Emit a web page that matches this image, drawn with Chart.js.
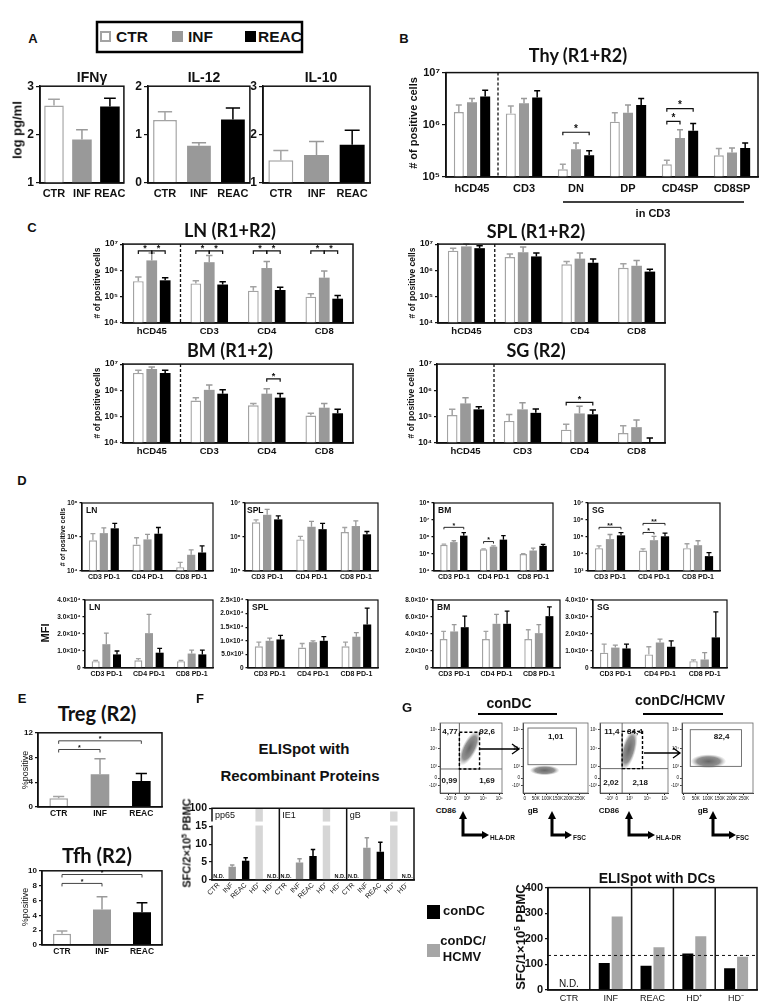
<!DOCTYPE html>
<html><head><meta charset="utf-8">
<script src="https://cdn.jsdelivr.net/npm/chart.js@4.4.1/dist/chart.umd.min.js"></script>
<style>
body{margin:0;background:#fff;}
#fig{position:relative;width:763px;height:1007px;overflow:hidden;font-family:"Liberation Sans",Arial,sans-serif;color:#111;background:#fff;}
.t{position:absolute;white-space:nowrap;font-weight:bold;transform:translate(-50%,-50%);line-height:1;}
.l{position:absolute;white-space:nowrap;font-weight:bold;transform:translate(0,-50%);line-height:1;}
.rot{transform:translate(-50%,-50%) rotate(-90deg);}
.ttl{font-family:Lato,"Open Sans",sans-serif;}
canvas{position:absolute;}
sup{font-size:65%;vertical-align:0.55em;line-height:0;}
.sq{position:absolute;box-sizing:border-box;}
</style></head><body>
<div id="fig"></div>
<script>
// ---- data ----
const aGroups = ['CTR', 'INF', 'REAC'];
const ifngMean = [2.6, 1.9, 2.58], ifngHi = [2.73, 2.1, 2.75];
const il12Mean = [1.3, 0.77, 1.31], il12Hi = [1.47, 0.83, 1.55];
const il10Mean = [1.47, 1.58, 1.79], il10Hi = [1.67, 1.86, 2.09];

const thyCats = ['hCD45', 'CD3', 'DN', 'DP', 'CD4SP', 'CD8SP'];
const thyCTR = [1.75e6, 1.65e6, 1.4e5, 1.15e6, 1.75e5, 2.6e5];
const thyCTRhi = [2.4e6, 2.3e6, 1.75e5, 1.7e6, 2.1e5, 3.5e5];
const thyINF = [2.7e6, 2.6e6, 3.4e5, 1.7e6, 5.6e5, 2.95e5];
const thyINFhi = [3.2e6, 3.2e6, 4.5e5, 2.4e6, 8e5, 3.6e5];
const thyREAC = [3.5e6, 3.35e6, 2.6e5, 2.4e6, 7.7e5, 3.6e5];
const thyREAChi = [4.6e6, 4.5e6, 3.2e5, 3.2e6, 1.06e6, 4.5e5];

const organCats = ['hCD45', 'CD3', 'CD4', 'CD8'];
const lnCTR = [3.9e5, 3.2e5, 1.7e5, 1e5], lnCTRhi = [5.6e5, 4e5, 2.4e5, 1.3e5];
const lnINF = [2.4e6, 2.05e6, 1.23e6, 5.3e5], lnINFhi = [4.6e6, 3.7e6, 2.2e6, 9.4e5];
const lnREAC = [4.2e5, 2.9e5, 1.8e5, 8.4e4], lnREAChi = [5.2e5, 3.7e5, 2.3e5, 1.1e5];
const splCTR = [5.6e6, 3.2e6, 1.7e6, 1.26e6], splCTRhi = [7e6, 4.2e6, 2.2e6, 1.8e6];
const splINF = [8.2e6, 4.9e6, 2.8e6, 1.5e6], splINFhi = [1e7, 7.7e6, 4.6e6, 2.4e6];
const splREAC = [7e6, 3.4e6, 1.95e6, 9e5], splREAChi = [8.7e6, 4.6e6, 2.7e6, 1.1e6];
const bmCTR = [4.6e6, 4.1e5, 2.7e5, 1.1e5], bmCTRhi = [5.9e6, 5.3e5, 3.2e5, 1.35e5];
const bmINF = [6.5e6, 1.05e6, 7.5e5, 2.2e5], bmINFhi = [7.8e6, 1.6e6, 1.15e6, 3.2e5];
const bmREAC = [4.6e6, 7.5e5, 5.3e5, 1.35e5], bmREAChi = [5.9e6, 1.05e6, 7.6e5, 1.9e5];
const sgCTR = [1.16e5, 6.9e4, 3.2e4, 2.4e4], sgCTRhi = [1.9e5, 1.2e5, 5.2e4, 4.5e4];
const sgINF = [3.2e5, 1.9e5, 1.33e5, 4e4], sgINFhi = [5.3e5, 3.4e5, 2.5e5, 7.5e4];
const sgREAC = [1.9e5, 1.4e5, 1.23e5, 1.06e4], sgREAChi = [2.4e5, 1.95e5, 1.8e5, 1.55e4];

const pd1Cats = ['CD3 PD-1', 'CD4 PD-1', 'CD8 PD-1'];
const lnPdCTR = [8e4, 6e4, 1.3e4], lnPdCTRhi = [1.25e5, 9.5e4, 1.8e4];
const lnPdINF = [1.3e5, 8.5e4, 3e4], lnPdINFhi = [1.85e5, 1.2e5, 4.2e4];
const lnPdREAC = [1.8e5, 1.25e5, 3.5e4], lnPdREAChi = [2.5e5, 1.9e5, 5.5e4];
const splPdCTR = [2.7e6, 8.5e5, 1.4e6], splPdCTRhi = [3.2e6, 1.05e6, 1.9e6];
const splPdINF = [4.5e6, 2e6, 2.1e6], splPdINFhi = [6.5e6, 2.9e6, 3e6];
const splPdREAC = [3.3e6, 1.7e6, 1.2e6], splPdREAChi = [4.2e6, 2.5e6, 1.45e6];
const bmPdCTR = [3.5e5, 1.9e5, 1e5], bmPdCTRhi = [3.8e5, 2e5, 1.05e5];
const bmPdINF = [5e5, 2.7e5, 1.6e5], bmPdINFhi = [6e5, 3e5, 2.2e5];
const bmPdREAC = [1.2e6, 7e5, 3e5], bmPdREAChi = [1.8e6, 1.2e6, 3.7e5];
const sgPdCTR = [2.2e4, 1.6e4, 2.2e4], sgPdCTRhi = [3e4, 2e4, 4e4];
const sgPdINF = [7.5e4, 6.5e4, 3.3e4], sgPdINFhi = [1.4e5, 1.1e5, 6e4];
const sgPdREAC = [1.25e5, 1.1e5, 7.5e3], sgPdREAChi = [1.8e5, 1.7e5, 1.2e4];

const lnMfiCTR = [4e3, 4.5e3, 4e3], lnMfiCTRhi = [4.5e3, 5.5e3, 4.5e3];
const lnMfiINF = [1.4e4, 2.05e4, 8.5e3], lnMfiINFhi = [2.05e4, 3.15e4, 1.05e4];
const lnMfiREAC = [8e3, 9e3, 8e3], lnMfiREAChi = [1e4, 1.15e4, 1.05e4];
const splMfiCTR = [8e3, 7.5e3, 8e3], splMfiCTRhi = [9.5e3, 9e3, 9.5e3];
const splMfiINF = [1e4, 9.5e3, 1.15e4], splMfiINFhi = [1.1e4, 1e4, 1.3e4];
const splMfiREAC = [1.05e4, 1e4, 1.6e4], splMfiREAChi = [1.2e4, 1.15e4, 2.2e4];
const bmMfiCTR = [3.4e4, 3.4e4, 3.4e4], bmMfiCTRhi = [4.3e4, 4.3e4, 4.5e4];
const bmMfiINF = [4.3e4, 5.2e4, 4.1e4], bmMfiINFhi = [5.1e4, 6.3e4, 5.1e4];
const bmMfiREAC = [4.8e4, 5.2e4, 6.1e4], bmMfiREAChi = [6.1e4, 6.7e4, 7.2e4];
const sgMfiCTR = [9e3, 8e3, 4e3], sgMfiCTRhi = [1.4e4, 1.25e4, 4.8e3];
const sgMfiINF = [1.2e4, 1.5e4, 5e3], sgMfiINFhi = [1.35e4, 1.7e4, 9e3];
const sgMfiREAC = [1.15e4, 1.25e4, 1.8e4], sgMfiREAChi = [1.4e4, 1.6e4, 3.3e4];

const tregMean = [1.4, 5.3, 4.2], tregHi = [1.7, 7.8, 5.4];
const tfhMean = [1.5, 4.8, 4.4], tfhHi = [1.9, 6.5, 5.7];

const elispotCats = ['CTR', 'INF', 'REAC', 'HD⁺', 'HD⁻'];
const pp65 = [null, 3.7, 5.4, 100, null], pp65Hi = [null, 4.2, 6.2, null, null];
const ie1 = [null, 4.9, 6.7, 100, null], ie1Hi = [null, 5.9, 8.5, null, null];
const gB = [null, 9, 7.9, 85, null], gBHi = [null, 11.8, 10.5, null, null];

const conDC = [null, 105, 95, 143, 85];
const conDCHCMV = [null, 287, 167, 210, 130];
const dcCutoff = 135;

// flow plots (biexponential axes in decade units)
const flowTickLab = ['-10³', '0', '10³', '10⁴', '10⁵'];
const flowYVals = [0, 0.4, 1, 2, 3];
const flowXVals = [-0.15, 0.27, 1, 2, 3];
const fscVals = [0, 50000, 100000, 150000, 200000, 250000];
const fscLab = ['0', '50K', '100K', '150K', '200K', '250K'];

// ---- helpers ----
const FONT = '"Liberation Sans", Arial, sans-serif';
const INK = '#111';
const C_CTR = '#a3a3a3', C_INF = '#999999', C_REAC = '#000', C_HDP = '#d6d6d6', C_DC2 = '#a6a6a6';
const fig = document.getElementById('fig');

const SUP = {'0':'⁰','1':'¹','2':'²','3':'³','4':'⁴','5':'⁵','6':'⁶','7':'⁷','8':'⁸','9':'⁹','-':'⁻'};
const sup = n => String(n).split('').map(c => SUP[c]).join('');
const pow10 = v => '10' + sup(Math.round(Math.log10(v)));
const sci = v => { if (v === 0) return '0'; const e = Math.floor(Math.log10(v) + 1e-9); return (v / 10 ** e).toFixed(1) + '×10' + sup(e); };
const decades = (a, b) => { const r = []; for (let e = a; e <= b; e++) r.push(10 ** e); return r; };

function tri(ctr, ctrHi, inf, infHi, reac, reacHi) {
  return [
    {data: ctr, hi: ctrHi, backgroundColor: '#fff', borderColor: C_CTR, borderWidth: 1.4, errColor: C_CTR},
    {data: inf, hi: infHi, backgroundColor: C_INF, borderColor: C_INF, borderWidth: 0, errColor: C_INF},
    {data: reac, hi: reacHi, backgroundColor: C_REAC, borderColor: C_REAC, borderWidth: 0, errColor: C_REAC}
  ];
}
function one(mean, hi) {
  return [{data: mean, hi: hi, backgroundColor: ['#fff', C_INF, C_REAC], borderColor: [C_CTR, C_INF, C_REAC],
    borderWidth: [1.5, 0, 0], errColor: [C_CTR, C_INF, C_REAC]}];
}

// bar decorations: error bars, brackets, separators, frame
const deco = {
  id: 'deco',
  afterDatasetsDraw(chart, args, o) {
    const ctx = chart.ctx, a = chart.chartArea, x = chart.scales.x, y = chart.scales.y;
    ctx.save();
    if (o.brk) {
      const yt = y.getPixelForValue(o.brk[1]), yb = y.getPixelForValue(o.brk[0]);
      ctx.fillStyle = '#fff';
      ctx.fillRect(a.left + 1, yt, a.right - a.left - 2, yb - yt);
    }
    chart.data.datasets.forEach((ds, i) => {
      if (!ds.hi) return;
      chart.getDatasetMeta(i).data.forEach((bar, j) => {
        const v = ds.hi[j];
        if (v == null || ds.data[j] == null) return;
        const t = y.getPixelForValue(v), cw = bar.width * 0.3;
        ctx.strokeStyle = Array.isArray(ds.errColor) ? ds.errColor[j] : ds.errColor;
        ctx.lineWidth = o.elw || 1.5;
        ctx.beginPath();
        ctx.moveTo(bar.x, bar.y); ctx.lineTo(bar.x, t);
        ctx.moveTo(bar.x - cw, t); ctx.lineTo(bar.x + cw, t);
        ctx.stroke();
      });
    });
    const mid = i => (x.getPixelForTick(i) + x.getPixelForTick(i + 1)) / 2;
    ctx.strokeStyle = INK;
    ctx.lineWidth = 1.3;
    ctx.setLineDash([3, 2]);
    (o.sep || []).forEach(i => {
      ctx.beginPath(); ctx.moveTo(mid(i), a.top); ctx.lineTo(mid(i), a.bottom); ctx.stroke();
    });
    ctx.setLineDash([]);
    ctx.lineWidth = o.flw || 1.5;
    (o.div || []).forEach(i => {
      ctx.beginPath(); ctx.moveTo(mid(i), a.top); ctx.lineTo(mid(i), a.bottom); ctx.stroke();
    });
    if (o.hline != null) {
      const hy = y.getPixelForValue(o.hline);
      ctx.lineWidth = 1; ctx.setLineDash([3, 3]);
      ctx.beginPath(); ctx.moveTo(a.left, hy); ctx.lineTo(a.right, hy); ctx.stroke();
      ctx.setLineDash([]);
    }
    (o.br || []).forEach(b => {
      const x1 = chart.getDatasetMeta(b.a[1]).data[b.a[0]].x;
      const x2 = chart.getDatasetMeta(b.b[1]).data[b.b[0]].x;
      const yy = y.getPixelForValue(b.v), tk = o.tk || 3;
      ctx.lineWidth = o.blw || 1.2; ctx.strokeStyle = o.bcol || INK;
      ctx.beginPath(); ctx.moveTo(x1, yy + tk); ctx.lineTo(x1, yy); ctx.lineTo(x2, yy); ctx.lineTo(x2, yy + tk); ctx.stroke();
      ctx.fillStyle = INK; ctx.font = 'bold ' + (o.bfs || 8) + 'px ' + FONT;
      ctx.textAlign = 'center'; ctx.textBaseline = 'bottom';
      ctx.fillText(b.t, (x1 + x2) / 2, yy + (o.bdy ?? 2));
    });
    if (o.nd) {
      ctx.font = o.nd.font; ctx.fillStyle = INK; ctx.textAlign = 'center'; ctx.textBaseline = 'bottom';
      chart.data.labels.forEach((l, j) => {
        if (chart.data.datasets.every(d => d.data[j] == null)) ctx.fillText('N.D.', x.getPixelForTick(j), a.bottom - (o.nd.dy || 1));
      });
    }
    (o.lab || []).forEach(l => {
      const cw = (a.right - a.left) / chart.data.labels.length;
      ctx.font = l.font; ctx.textAlign = 'left'; ctx.textBaseline = 'top'; ctx.fillStyle = INK;
      ctx.fillText(l.t, a.left + l.cat * cw + (l.dx ?? 4), a.top + (l.dy ?? 3));
    });
    ctx.lineWidth = o.flw || 1.5; ctx.strokeStyle = INK;
    if (o.brk) {
      const yt = y.getPixelForValue(o.brk[1]), yb = y.getPixelForValue(o.brk[0]);
      ctx.beginPath();
      ctx.moveTo(a.left, yt); ctx.lineTo(a.left, a.top); ctx.lineTo(a.right, a.top);
      ctx.lineTo(a.right, a.bottom); ctx.lineTo(a.left, a.bottom); ctx.lineTo(a.left, yb);
      ctx.stroke();
    } else {
      ctx.strokeRect(a.left, a.top, a.right - a.left, a.bottom - a.top);
    }
    ctx.restore();
  }
};

// flow cytometry plots: density clouds, quadrants, gates, percentages
const flowPlug = {
  id: 'flow',
  beforeDatasetsDraw(chart, args, o) {
    const ctx = chart.ctx, a = chart.chartArea, x = chart.scales.x, y = chart.scales.y;
    ctx.save();
    ctx.beginPath(); ctx.rect(a.left, a.top, a.right - a.left, a.bottom - a.top); ctx.clip();
    (o.clouds || []).forEach(c => {
      const px = x.getPixelForValue(c.cx), py = y.getPixelForValue(c.cy);
      const rx = Math.abs(x.getPixelForValue(c.cx + c.rx) - px), ry = Math.abs(y.getPixelForValue(c.cy + c.ry) - py);
      ctx.save();
      ctx.translate(px, py); ctx.rotate((c.rot || 0) * Math.PI / 180); ctx.scale(rx, ry);
      const g = ctx.createRadialGradient(0, 0, 0, 0, 0, 1);
      g.addColorStop(0, 'rgba(95,95,95,0.95)');
      g.addColorStop(0.65, 'rgba(125,125,125,0.85)');
      g.addColorStop(1, 'rgba(170,170,170,0)');
      ctx.fillStyle = g;
      ctx.beginPath(); ctx.arc(0, 0, 1, 0, Math.PI * 2); ctx.fill();
      ctx.restore();
    });
    ctx.restore();
  },
  afterDatasetsDraw(chart, args, o) {
    const ctx = chart.ctx, a = chart.chartArea, x = chart.scales.x, y = chart.scales.y;
    ctx.save();
    ctx.strokeStyle = '#444'; ctx.lineWidth = 0.8;
    if (o.qx != null) { const px = x.getPixelForValue(o.qx); ctx.beginPath(); ctx.moveTo(px, a.top); ctx.lineTo(px, a.bottom); ctx.stroke(); }
    if (o.qy != null) { const py = y.getPixelForValue(o.qy); ctx.beginPath(); ctx.moveTo(a.left, py); ctx.lineTo(a.right, py); ctx.stroke(); }
    (o.gates || []).forEach(g => {
      const x0 = x.getPixelForValue(g.x0), x1 = x.getPixelForValue(g.x1);
      const y0 = y.getPixelForValue(g.y0), y1 = y.getPixelForValue(g.y1);
      ctx.strokeStyle = g.dash ? '#000' : '#666'; ctx.lineWidth = g.dash ? 1.4 : 0.9;
      ctx.setLineDash(g.dash ? [3, 2] : []);
      ctx.strokeRect(x0, y1, x1 - x0, y0 - y1);
    });
    ctx.setLineDash([]);
    ctx.fillStyle = INK; ctx.font = 'bold 8px ' + FONT; ctx.textAlign = 'center'; ctx.textBaseline = 'middle';
    (o.nums || []).forEach(n => ctx.fillText(n.t, x.getPixelForValue(n.x), y.getPixelForValue(n.y)));
    ctx.strokeStyle = '#666'; ctx.lineWidth = 0.8;
    ctx.strokeRect(a.left, a.top, a.right - a.left, a.bottom - a.top);
    ctx.restore();
  }
};

function mk(o) {
  const pt = o.pt ?? 6, pr = o.pr ?? 3;
  const W = o.yw + o.w + pr, H = pt + o.h + o.xh;
  const cv = document.createElement('canvas');
  cv.width = W; cv.height = H;
  cv.style.left = (o.x - o.yw) + 'px'; cv.style.top = (o.y - pt) + 'px';
  cv.style.width = W + 'px'; cv.style.height = H + 'px';
  fig.appendChild(cv);
  const plug = o.plug || deco;
  const xs = {
    type: o.xType || 'category',
    grid: {display: !!o.xTicks, drawOnChartArea: false, drawTicks: !!o.xTicks, tickLength: o.tl ?? 3, color: INK},
    border: {display: true, color: INK, width: o.lw ?? 1.5},
    ticks: {color: INK, font: {size: o.xfs, weight: o.xw || 'bold', family: FONT}, padding: o.xpad ?? 2,
      maxRotation: o.xrot || 0, minRotation: o.xrot || 0, autoSkip: false},
    afterFit(s) { s.height = o.xh; }
  };
  if (o.xTicks) {
    xs.min = o.xMin; xs.max = o.xMax;
    xs.afterBuildTicks = s => { s.ticks = o.xTicks.map(v => ({value: v})); };
    xs.ticks.callback = o.xFmt;
  }
  const ys = {
    type: o.yType || 'linear', min: o.yMin, max: o.yMax,
    grid: {display: true, drawOnChartArea: false, drawTicks: true, tickLength: o.tl ?? 3, color: INK, lineWidth: o.lw ? Math.max(o.lw, 0.8) : 1.2},
    border: {display: o.yBorder !== false, color: INK, width: o.lw ?? 1.5},
    ticks: {color: INK, font: {size: o.yfs, weight: o.yw8 || 'bold', family: FONT}, padding: o.ypad ?? 2, callback: o.yFmt || (v => v)},
    afterBuildTicks(s) { s.ticks = o.yTicks.map(v => ({value: v})); },
    afterFit(s) { s.width = o.yw; }
  };
  const plugOpts = {legend: {display: false}, tooltip: {enabled: false}};
  plugOpts[plug.id] = o.deco || {};
  return new Chart(cv, {
    type: o.type || 'bar',
    data: {labels: o.labels, datasets: o.datasets},
    options: {
      responsive: false, animation: false, devicePixelRatio: 1,
      layout: {padding: {top: pt, right: pr, left: 0, bottom: 0}, autoPadding: false},
      datasets: {bar: {categoryPercentage: o.cp ?? 0.8, barPercentage: o.bp ?? 0.8}},
      plugins: plugOpts,
      scales: {x: xs, y: ys}
    },
    plugins: [plug]
  });
}

function txt(s, x, y, size, cls, extra) {
  const d = document.createElement('div');
  d.className = (cls && cls.indexOf('l') === 0 ? '' : 't ') + (cls || '');
  d.style.left = x + 'px'; d.style.top = y + 'px'; d.style.fontSize = size + 'px';
  d.innerHTML = s;
  if (extra) Object.assign(d.style, extra);
  fig.appendChild(d);
}
function sq(x, y, w, h, fill, border) {
  const d = document.createElement('div');
  d.className = 'sq';
  Object.assign(d.style, {left: x + 'px', top: y + 'px', width: w + 'px', height: h + 'px', background: fill, border: border || 'none'});
  fig.appendChild(d);
}

// ---- panel A ----
const aBase = {y: 83, h: 100, yw: 16, xh: 20, xpad: 4, labels: aGroups, yfs: 12, xfs: 11, cp: 1, bp: 0.7, tl: 4};
mk(Object.assign({}, aBase, {x: 40, w: 87, datasets: one(ifngMean, ifngHi), yMin: 1, yMax: 3, yTicks: [1, 2, 3]}));
mk(Object.assign({}, aBase, {x: 148, w: 102, datasets: one(il12Mean, il12Hi), yMin: 0, yMax: 2, yTicks: [0, 1, 2]}));
mk(Object.assign({}, aBase, {x: 263, w: 107, datasets: one(il10Mean, il10Hi), yMin: 1, yMax: 3, yTicks: [1, 2, 3]}));

// ---- panel B ----
mk({x: 446, y: 70, w: 312, h: 107, yw: 32, xh: 20, xpad: 5, labels: thyCats,
  datasets: tri(thyCTR, thyCTRhi, thyINF, thyINFhi, thyREAC, thyREAChi),
  yType: 'logarithmic', yMin: 1e5, yMax: 1e7, yTicks: decades(5, 7), yFmt: pow10, yfs: 11, xfs: 11, cp: 0.76, bp: 0.76, tl: 4,
  deco: {sep: [0], bfs: 10, br: [
    {a: [2, 0], b: [2, 2], v: 7.2e5, t: '*'},
    {a: [4, 0], b: [4, 1], v: 1.16e6, t: '*'},
    {a: [4, 0], b: [4, 2], v: 2.04e6, t: '*'}]}});

// ---- panel C ----
const cBase = {h: 80, yw: 26, xh: 16, xpad: 3, labels: organCats, yType: 'logarithmic', yMin: 1e4, yMax: 1e7,
  yTicks: decades(4, 7), yFmt: pow10, yfs: 8.5, xfs: 9.5, cp: 0.7, bp: 0.8, tl: 3};
const lnBr = [];
[0, 1, 2, 3].forEach(c => { lnBr.push({a: [c, 0], b: [c, 1], v: 5.5e6, t: '*'}, {a: [c, 1], b: [c, 2], v: 5.5e6, t: '*'}); });
mk(Object.assign({}, cBase, {x: 123, y: 243, w: 230, datasets: tri(lnCTR, lnCTRhi, lnINF, lnINFhi, lnREAC, lnREAChi),
  deco: {sep: [0], br: lnBr, bfs: 9}}));
mk(Object.assign({}, cBase, {x: 438, y: 243, w: 227, datasets: tri(splCTR, splCTRhi, splINF, splINFhi, splREAC, splREAChi),
  deco: {sep: [0]}}));
mk(Object.assign({}, cBase, {x: 123, y: 363, w: 230, datasets: tri(bmCTR, bmCTRhi, bmINF, bmINFhi, bmREAC, bmREAChi),
  deco: {sep: [0], bfs: 9, br: [{a: [2, 1], b: [2, 2], v: 2.75e6, t: '*'}]}}));
mk(Object.assign({}, cBase, {x: 437, y: 363, w: 228, datasets: tri(sgCTR, sgCTRhi, sgINF, sgINFhi, sgREAC, sgREAChi),
  deco: {sep: [0], bfs: 9, br: [{a: [2, 0], b: [2, 2], v: 3.5e5, t: '*'}]}}));

// ---- panel D ----
const labFont = 'bold 8.5px ' + FONT;
const dBase = {h: 68, xh: 14, xpad: 2, labels: pd1Cats, yfs: 6.5, xfs: 7, cp: 0.75, bp: 0.75, tl: 2.5, lw: 1.2};
const dLog = Object.assign({}, dBase, {y: 503, yw: 22, yType: 'logarithmic', yFmt: pow10});
mk(Object.assign({}, dLog, {x: 82, w: 131, yMin: 1e4, yMax: 1e6, yTicks: decades(4, 6),
  datasets: tri(lnPdCTR, lnPdCTRhi, lnPdINF, lnPdINFhi, lnPdREAC, lnPdREAChi),
  deco: {flw: 1.2, elw: 1.3, lab: [{t: 'LN', cat: 0, font: labFont}]}}));
mk(Object.assign({}, dLog, {x: 245, w: 133, yMin: 1e5, yMax: 1e7, yTicks: decades(5, 7),
  datasets: tri(splPdCTR, splPdCTRhi, splPdINF, splPdINFhi, splPdREAC, splPdREAChi),
  deco: {flw: 1.2, elw: 1.3, lab: [{t: 'SPL', cat: 0, font: labFont, dx: 2}]}}));
mk(Object.assign({}, dLog, {x: 434, w: 119, yMin: 1e4, yMax: 1e8, yTicks: decades(4, 8),
  datasets: tri(bmPdCTR, bmPdCTRhi, bmPdINF, bmPdINFhi, bmPdREAC, bmPdREAChi),
  deco: {flw: 1.2, elw: 1.3, blw: 0.9, bfs: 7, tk: 2, lab: [{t: 'BM', cat: 0, font: labFont}],
    br: [{a: [0, 0], b: [0, 2], v: 3.7e6, t: '*'}, {a: [1, 0], b: [1, 1], v: 5.4e5, t: '*'}]}}));
mk(Object.assign({}, dLog, {x: 588, w: 132, yMin: 1e3, yMax: 1e7, yTicks: decades(3, 7),
  datasets: tri(sgPdCTR, sgPdCTRhi, sgPdINF, sgPdINFhi, sgPdREAC, sgPdREAChi),
  deco: {flw: 1.2, elw: 1.3, blw: 0.9, bfs: 7, tk: 2, lab: [{t: 'SG', cat: 0, font: labFont}],
    br: [{a: [0, 0], b: [0, 2], v: 3.7e5, t: '**'}, {a: [1, 0], b: [1, 1], v: 1.85e5, t: '*'}, {a: [1, 0], b: [1, 2], v: 6.3e5, t: '**'}]}}));

const dLin = Object.assign({}, dBase, {y: 600, yw: 36, yMin: 0, yFmt: sci});
mk(Object.assign({}, dLin, {x: 85, w: 128, yMax: 4e4, yTicks: [0, 1e4, 2e4, 3e4, 4e4],
  datasets: tri(lnMfiCTR, lnMfiCTRhi, lnMfiINF, lnMfiINFhi, lnMfiREAC, lnMfiREAChi),
  deco: {flw: 1.2, elw: 1.3, lab: [{t: 'LN', cat: 0, font: labFont}]}}));
mk(Object.assign({}, dLin, {x: 248, w: 130, yMax: 2.5e4, yTicks: [0, 5e3, 1e4, 1.5e4, 2e4, 2.5e4],
  datasets: tri(splMfiCTR, splMfiCTRhi, splMfiINF, splMfiINFhi, splMfiREAC, splMfiREAChi),
  deco: {flw: 1.2, elw: 1.3, lab: [{t: 'SPL', cat: 0, font: labFont}]}}));
mk(Object.assign({}, dLin, {x: 433, w: 127, yMax: 8e4, yTicks: [0, 2e4, 4e4, 6e4, 8e4],
  datasets: tri(bmMfiCTR, bmMfiCTRhi, bmMfiINF, bmMfiINFhi, bmMfiREAC, bmMfiREAChi),
  deco: {flw: 1.2, elw: 1.3, lab: [{t: 'BM', cat: 0, font: labFont}]}}));
mk(Object.assign({}, dLin, {x: 593, w: 134, yMax: 4e4, yTicks: [0, 1e4, 2e4, 3e4, 4e4],
  datasets: tri(sgMfiCTR, sgMfiCTRhi, sgMfiINF, sgMfiINFhi, sgMfiREAC, sgMfiREAChi),
  deco: {flw: 1.2, elw: 1.3, lab: [{t: 'SG', cat: 0, font: labFont}]}}));

// ---- panel E ----
const eBase = {h: 75, yw: 16, xh: 14, xpad: 2, labels: aGroups, yfs: 8, xfs: 8.5, cp: 1, bp: 0.45, tl: 3, lw: 1.3};
mk(Object.assign({}, eBase, {x: 38, y: 732, w: 124, datasets: one(tregMean, tregHi), yMin: 0, yMax: 12, yTicks: [0, 2, 4, 6, 8, 10, 12],
  deco: {flw: 1.5, bfs: 7, blw: 1, bcol: '#444', br: [{a: [0, 0], b: [1, 0], v: 9.3, t: '*'}, {a: [0, 0], b: [2, 0], v: 10.7, t: '*'}]}}));
mk(Object.assign({}, eBase, {x: 42, y: 870, w: 120, datasets: one(tfhMean, tfhHi), yMin: 0, yMax: 10, yTicks: [0, 2, 4, 6, 8, 10],
  deco: {flw: 1.5, bfs: 7, blw: 1, bcol: '#444', br: [{a: [0, 0], b: [1, 0], v: 8.3, t: '*'}, {a: [0, 0], b: [2, 0], v: 9.5, t: '*'}]}}));

// ---- panel F (broken axis: 15..100 compressed into the top band) ----
const brokenY = v => v == null ? null : (v <= 15 ? v : 15 + (v - 15) * 5 / 85);
const fLabels = elispotCats.concat(elispotCats, elispotCats);
const fColors = fLabels.map(c => ({'CTR': '#fff', 'INF': C_INF, 'REAC': C_REAC, 'HD⁺': C_HDP, 'HD⁻': '#fff'})[c]);
mk({x: 212, y: 806, w: 202, h: 74, yw: 26, xh: 28, xpad: 1, labels: fLabels,
  datasets: [{data: pp65.concat(ie1, gB).map(brokenY), hi: pp65Hi.concat(ie1Hi, gBHi).map(brokenY),
    backgroundColor: fColors, borderWidth: 0, errColor: fColors}],
  yMin: 0, yMax: 20, yTicks: [0, 5, 10, 15, 20], yFmt: v => v === 20 ? '100' : String(v), yfs: 10.5, xfs: 7, xw: 'normal', xrot: 45,
  cp: 1, bp: 0.55, tl: 3, yBorder: false,
  deco: {div: [4, 9], brk: [15.2, 16.3], nd: {font: 'bold 5.5px ' + FONT, dy: 1},
    lab: [{t: 'pp65', cat: 0, font: '9px ' + FONT, dx: 3}, {t: 'IE1', cat: 5, font: '9px ' + FONT, dx: 3}, {t: 'gB', cat: 10, font: '9px ' + FONT, dx: 3}]}});

// ---- panel G: flow plots ----
const flowBase = {type: 'scatter', y: 723, h: 70, yw: 14, xh: 9, pt: 4, labels: [], datasets: [], xType: 'linear',
  yMin: -0.4, yMax: 3.36, yTicks: flowYVals, yFmt: (v, i) => flowTickLab[i], yfs: 4.5, xfs: 4.5, xw: 'normal', yw8: 'normal',
  lw: 0.8, tl: 2, xpad: 1, ypad: 1, plug: flowPlug};
const cd86Axis = {xMin: -0.67, xMax: 3.17, xTicks: flowXVals, xFmt: (v, i) => flowTickLab[i]};
const fscAxis = {xMin: -7500, xMax: 288000, xTicks: fscVals, xFmt: (v, i) => fscLab[i]};
mk(Object.assign({}, flowBase, cd86Axis, {x: 440, w: 62, deco: {
  qx: 0.53, qy: 0.89,
  clouds: [{cx: 1.16, cy: 2.02, rx: 0.45, ry: 1.05, rot: 27}],
  gates: [{x0: 0.53, x1: 1.78, y0: 0.89, y1: 2.86, dash: true}],
  nums: [{x: -0.05, y: 2.88, t: '4,77'}, {x: 2.25, y: 2.88, t: '92,6'}, {x: -0.09, y: 0.23, t: '0,99'}, {x: 2.24, y: 0.23, t: '1,69'}]}}));
mk(Object.assign({}, flowBase, fscAxis, {x: 523, w: 65, deco: {
  clouds: [{cx: 91000, cy: 0.82, rx: 68000, ry: 0.27, rot: 0}],
  gates: [{x0: 15000, x1: 235000, y0: 1.12, y1: 3.09}],
  nums: [{x: 141000, y: 2.64, t: '1,01'}]}}));
mk(Object.assign({}, flowBase, cd86Axis, {x: 600, w: 68, deco: {
  qx: 0.58, qy: 0.91,
  clouds: [{cx: 0.96, cy: 1.93, rx: 0.4, ry: 1.13, rot: 15}],
  gates: [{x0: 0.58, x1: 1.73, y0: 0.91, y1: 2.91, dash: true}],
  nums: [{x: 0.0, y: 2.88, t: '11,4'}, {x: 1.3, y: 2.88, t: '84,4'}, {x: -0.05, y: 0.14, t: '2,02'}, {x: 1.6, y: 0.14, t: '2,18'}]}}));
mk(Object.assign({}, flowBase, fscAxis, {x: 682, w: 71, deco: {
  clouds: [{cx: 102500, cy: 1.3, rx: 74000, ry: 0.38, rot: 0}],
  gates: [{x0: 26900, x1: 240000, y0: 1.03, y1: 3.0}],
  nums: [{x: 157400, y: 2.64, t: '82,4'}]}}));

// ---- panel G: ELISpot with DCs ----
mk({x: 548, y: 885, w: 209, h: 105, yw: 28, xh: 16, xpad: 3, labels: elispotCats,
  datasets: [{data: conDC, backgroundColor: '#000'}, {data: conDCHCMV, backgroundColor: C_DC2}],
  yMin: 0, yMax: 400, yTicks: [0, 100, 200, 300, 400], yfs: 11, xfs: 9, xw: 'normal', cp: 0.62, bp: 0.85, tl: 3,
  deco: {div: [0, 1, 2, 3], hline: dcCutoff, nd: {font: '10px ' + FONT, dy: 1}}});

// ---- text ----
[['A', 33, 38], ['B', 404, 38], ['C', 32, 227], ['D', 22, 480], ['E', 22, 698], ['F', 200, 698], ['G', 407, 707]]
  .forEach(p => txt(p[0], p[1], p[2], 13));
// legend
sq(100, 31, 11, 11, '#fff', '2px solid ' + C_CTR); txt('CTR', 116, 37, 15.5, 'l');
sq(172, 31, 11, 11, C_INF); txt('INF', 188, 37, 15.5, 'l');
sq(245, 31, 11, 11, '#000'); txt('REAC', 258, 37, 15.5, 'l');

txt('IFNγ', 92, 77, 14); txt('IL-12', 204, 77, 14); txt('IL-10', 321, 77, 14);
txt('log pg/ml', 17, 130, 13, 'rot');
txt('Thy (R1+R2)', 578, 55, 18, 'ttl');
txt('# of positive cells', 413, 123, 11, 'rot');
txt('in CD3', 653, 213, 11);
txt('LN (R1+R2)', 230, 230, 18, 'ttl'); txt('SPL (R1+R2)', 536, 231, 18, 'ttl');
txt('BM (R1+2)', 230, 350, 18, 'ttl'); txt('SG (R2)', 536, 350, 18, 'ttl');
[[97, 283], [412, 283], [97, 403], [411, 403]].forEach(p => txt('# of positive cells', p[0], p[1], 8.5, 'rot'));
txt('# of positive cells', 62, 537, 7, 'rot');
txt('MFI', 45, 633, 11, 'rot');
txt('Treg (R2)', 97, 713, 20, 'ttl'); txt('Tfh (R2)', 97, 855, 20, 'ttl');
txt('%positive', 25, 770, 9, 'rot', {fontWeight: 'normal'}); txt('%positive', 25, 907, 9, 'rot', {fontWeight: 'normal'});
txt('ELISpot with', 304, 748, 15); txt('Recombinant Proteins', 300, 775, 15);
txt('SFC/2×10<sup>5</sup> PBMC', 187, 843, 11, 'rot');
txt('conDC', 509, 703, 14); txt('conDC/HCMV', 680, 700, 14);
txt('CD86', 446, 811, 8); txt('gB', 533, 811, 8); txt('CD86', 609, 811, 8); txt('gB', 703, 811, 8);
txt('HLA-DR', 490, 838, 6.5, 'l'); txt('FSC', 573, 838, 6.5, 'l'); txt('HLA-DR', 656, 838, 6.5, 'l'); txt('FSC', 736, 838, 6.5, 'l');
txt('ELISpot with DCs', 657, 878, 14);
txt('SFC/1×10<sup>5</sup> PBMC', 520, 937, 13, 'rot');
sq(427, 905, 13, 14, '#000'); txt('conDC', 443, 910, 13, 'l');
sq(427, 944, 13, 13, C_DC2); txt('conDC/', 463, 940, 13); txt('HCMV', 462, 956, 13);

// ---- overlay lines and arrows ----
const NS = 'http://www.w3.org/2000/svg';
const svg = document.createElementNS(NS, 'svg');
svg.setAttribute('width', 763); svg.setAttribute('height', 1007);
svg.style.position = 'absolute'; svg.style.left = '0'; svg.style.top = '0';
let s = '<rect x="97" y="22" width="205" height="30" fill="none" stroke="#000" stroke-width="2.5"/>' +
  '<line x1="563" y1="202" x2="744" y2="202" stroke="#000" stroke-width="1.5"/>' +
  '<line x1="478" y1="714" x2="557" y2="714" stroke="#000" stroke-width="2"/>' +
  '<line x1="643" y1="714" x2="723" y2="714" stroke="#000" stroke-width="2"/>' +
  '<path d="M480 749 H519 M512 744 L519 749 L512 754" stroke="#000" fill="none" stroke-width="1.3"/>' +
  '<path d="M644 753 H680 M673 748 L680 753 L673 758" stroke="#000" fill="none" stroke-width="1.3"/>';
[[463, 487], [552, 570], [629, 653], [713, 734]].forEach(p => {
  const sx = p[0], ex = p[1];
  s += '<path d="M' + sx + ' 818 V835 H' + (ex - 4) + '" stroke="#000" stroke-width="3" fill="none"/>' +
    '<polygon points="' + (sx - 4) + ',819 ' + (sx + 4) + ',819 ' + sx + ',811" fill="#000"/>' +
    '<polygon points="' + (ex - 5) + ',831 ' + (ex - 5) + ',839 ' + (ex + 2) + ',835" fill="#000"/>';
});
svg.innerHTML = s;
fig.appendChild(svg);
</script>
</body></html>
